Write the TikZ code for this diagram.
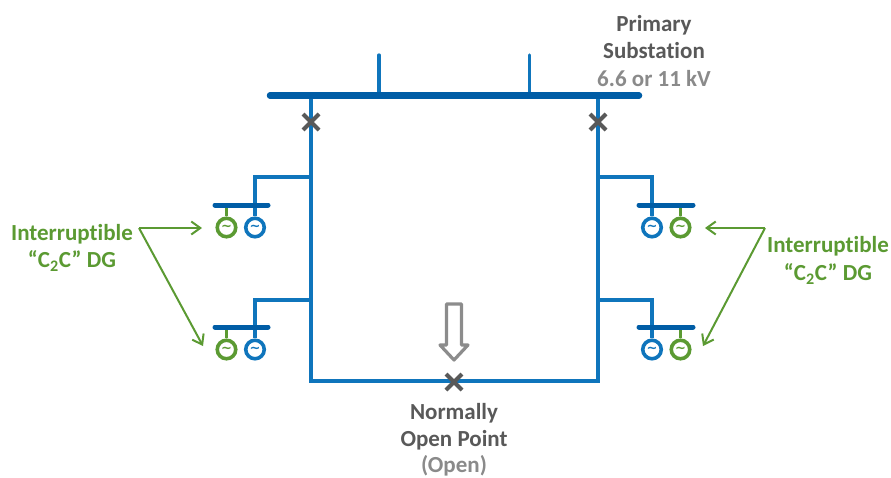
\documentclass[tikz,border=0pt]{standalone}
\usepackage{fontspec}
\setmainfont[Ligatures=NoCommon]{Carlito}
\newfontfamily\tildefont{DejaVu Sans}
\usetikzlibrary{arrows.meta,calc}
\definecolor{feeder}{HTML}{0F75BC}
\definecolor{busbar}{HTML}{005DA6}
\definecolor{dggreen}{HTML}{5B9A32}
\definecolor{xgrey}{HTML}{595959}
\definecolor{lightgrey}{HTML}{8A8A8A}
\definecolor{arrowgrey}{HTML}{8C8C8C}
\tikzset{
  feed/.style={draw=feeder,line width=3.3pt},
  stub/.style={draw=feeder,line width=3.3pt,line cap=round},
  bus/.style={draw=busbar,line width=6.5pt,line cap=round},
  smallbus/.style={draw=busbar,line width=5pt,line cap=round},
  gen/.style={circle,draw=#1,line width=3.6pt,minimum size=18.5pt,inner sep=0pt,text=#1,
     font=\tildefont\fontsize{13}{13}\bfseries\selectfont},
  crossmark/.style={draw=xgrey,line width=4pt},
  lbl/.style={align=center,font=\fontsize{23}{27.5}\bfseries\selectfont,inner sep=0pt},
  lead/.style={draw=dggreen,line width=2pt,-{Straight Barb[length=9pt,width=13pt,line width=2pt]}},
}
\newcommand{\xmark}[1]{%
  \draw[crossmark] ($(#1)+(-8,-8)$) -- ($(#1)+(8,8)$);
  \draw[crossmark] ($(#1)+(-8,8)$) -- ($(#1)+(8,-8)$);}
\begin{document}
\begin{tikzpicture}[x=1pt,y=-1pt]
\useasboundingbox (0,0) rectangle (891,477);
% coordinates
\coordinate (busL) at (270,95.5); \coordinate (busR) at (639,95.5);
\coordinate (tl) at (311,95.5); \coordinate (tr) at (598,95.5);
\coordinate (bl) at (311,381); \coordinate (br) at (598,381);
\coordinate (s1b) at (379,95.5); \coordinate (s1t) at (379,55);
\coordinate (s2b) at (529.5,95.5); \coordinate (s2t) at (529.5,55);
\coordinate (xl) at (311,122); \coordinate (xr) at (598,122); \coordinate (xn) at (454,382);
% main feeder ring
\draw[feed] (tl) -- (bl) -- (br) -- (tr);
\draw[stub] (s1b) -- (s1t);
\draw[stub] (s2b) -- (s2t);
\draw[bus] (busL) -- (busR);
% left branches
\foreach \n/\yb/\yt in {a/205/177,b/327/300}{
  \node[gen=dggreen] (g\n) at (226.5,\yb+22.5) {\char"7E};
  \node[gen=feeder] (h\n) at (255,\yb+22.5) {\char"7E};
  \draw[feed] (311,\yt) -- (255,\yt) -- (255,\yb) -- (h\n.north);
  \draw[draw=dggreen,line width=3.3pt] (226.5,\yb) -- (g\n.north);
  \draw[smallbus] (215,\yb) -- (268,\yb);
}
% right branches
\foreach \n/\yb/\yt in {c/205/177,d/327/300}{
  \node[gen=feeder] (h\n) at (652,\yb+22.5) {\char"7E};
  \node[gen=dggreen] (g\n) at (680.5,\yb+22.5) {\char"7E};
  \draw[feed] (598,\yt) -- (652,\yt) -- (652,\yb) -- (h\n.north);
  \draw[draw=dggreen,line width=3.3pt] (680.5,\yb) -- (g\n.north);
  \draw[smallbus] (639,\yb) -- (693,\yb);
}
% switches
\xmark{xl}\xmark{xr}\xmark{xn}
% hollow arrow
\draw[draw=arrowgrey,line width=3.2pt,line join=round,fill=white]
  (446.5,304) -- (461.5,304) -- (461.5,345) -- (468,345) -- (454,360) -- (440,345) -- (446.5,345) -- cycle;
% labels
\node[lbl,text=xgrey,anchor=center] (ps) at (654,37) {Primary\\Substation};
\node[lbl,text=lightgrey,anchor=center] (kv) at (654,79) {6.6 or 11 kV};
\node[lbl,text=xgrey,anchor=center] (nop) at (454,426.5) {Normally\\Open Point};
\node[lbl,text=lightgrey,anchor=center] (op) at (454,466) {(Open)};
\node[lbl,text=dggreen,anchor=center] (dl) at (72,248) {Interruptible\\“C\textsubscript{2}C” DG};
\node[lbl,text=dggreen,anchor=center] (dr) at (828,260.5) {Interruptible\\“C\textsubscript{2}C” DG};
% leader lines
\coordinate (al) at (139,228); \coordinate (ar) at (765,228);
\coordinate (tl1) at (202,228); \coordinate (tl2) at (203,346);
\coordinate (tr1) at (705,228); \coordinate (tr2) at (703,346);
\draw[lead] (al) -- (tl1);
\draw[lead] (al) -- (tl2);
\draw[lead] (ar) -- (tr1);
\draw[lead] (ar) -- (tr2);
\end{tikzpicture}
\end{document}
